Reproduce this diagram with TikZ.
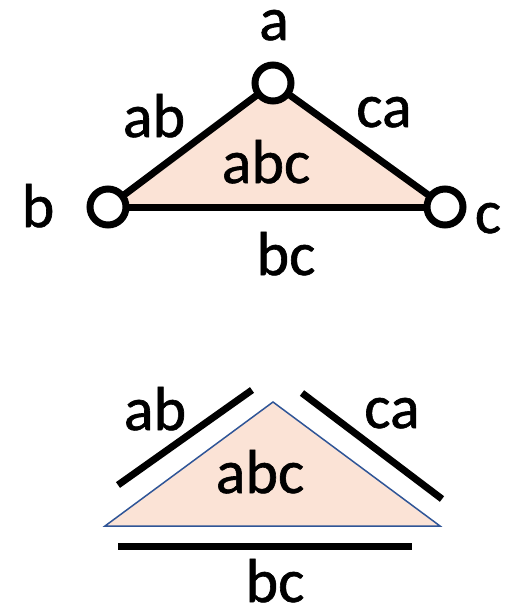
\documentclass[tikz,border=0pt]{standalone}
\usepackage{fontspec}
\setmainfont{Carlito}[FakeBold=1]
\definecolor{peach}{HTML}{FBE3D6}
\definecolor{tblue}{HTML}{2F5597}
\begin{document}
\begin{tikzpicture}[x=1pt,y=-1pt,
  lbl/.style={anchor=base,inner sep=0pt,font=\fontsize{62}{74}\selectfont},
  vtx/.style={circle,draw=black,fill=white,line width=7pt,inner sep=0pt,minimum size=36pt},
  edge/.style={line width=7pt,black},
  face/.style={fill=peach,draw=tblue,line width=1.5pt}]
\useasboundingbox (0,0) rectangle (521,606);
% top simplicial complex
\coordinate (A) at (273,83);
\coordinate (B) at (108,207);
\coordinate (C) at (445,207);
\path[face] (A) -- (B) -- (C) -- cycle;
\draw[edge] (A) -- (B);
\draw[edge] (B) -- (C);
\draw[edge] (C) -- (A);
\node[vtx] (a) at (A) {};
\node[vtx] (b) at (B) {};
\node[vtx] (c) at (C) {};
\node[lbl] (la) at (274,40) {a};
\node[lbl] (lb) at (38,227) {b};
\node[lbl] (lc) at (488,233) {c};
\node[lbl] (lab) at (154,137) {ab};
\node[lbl] (lca) at (384,127) {ca};
\node[lbl] (labc) at (266,183) {abc};
\node[lbl] (lbc) at (286,275) {bc};
% bottom: separated cells
\coordinate (P) at (273,402);
\coordinate (Q) at (105,526);
\coordinate (R) at (440,526);
\path[face] (P) -- (Q) -- (R) -- cycle;
\coordinate (ab1) at (118,485);
\coordinate (ab2) at (252,390);
\coordinate (ca1) at (302,393);
\coordinate (ca2) at (442,499);
\coordinate (bc1) at (118,546);
\coordinate (bc2) at (412,546);
\draw[edge] (ab1) -- (ab2);
\draw[edge] (ca1) -- (ca2);
\draw[edge] (bc1) -- (bc2);
\node[lbl] (mab) at (155,430) {ab};
\node[lbl] (mca) at (392,428) {ca};
\node[lbl] (mabc) at (260,493) {abc};
\node[lbl] (mbc) at (275,602) {bc};
\end{tikzpicture}
\end{document}
